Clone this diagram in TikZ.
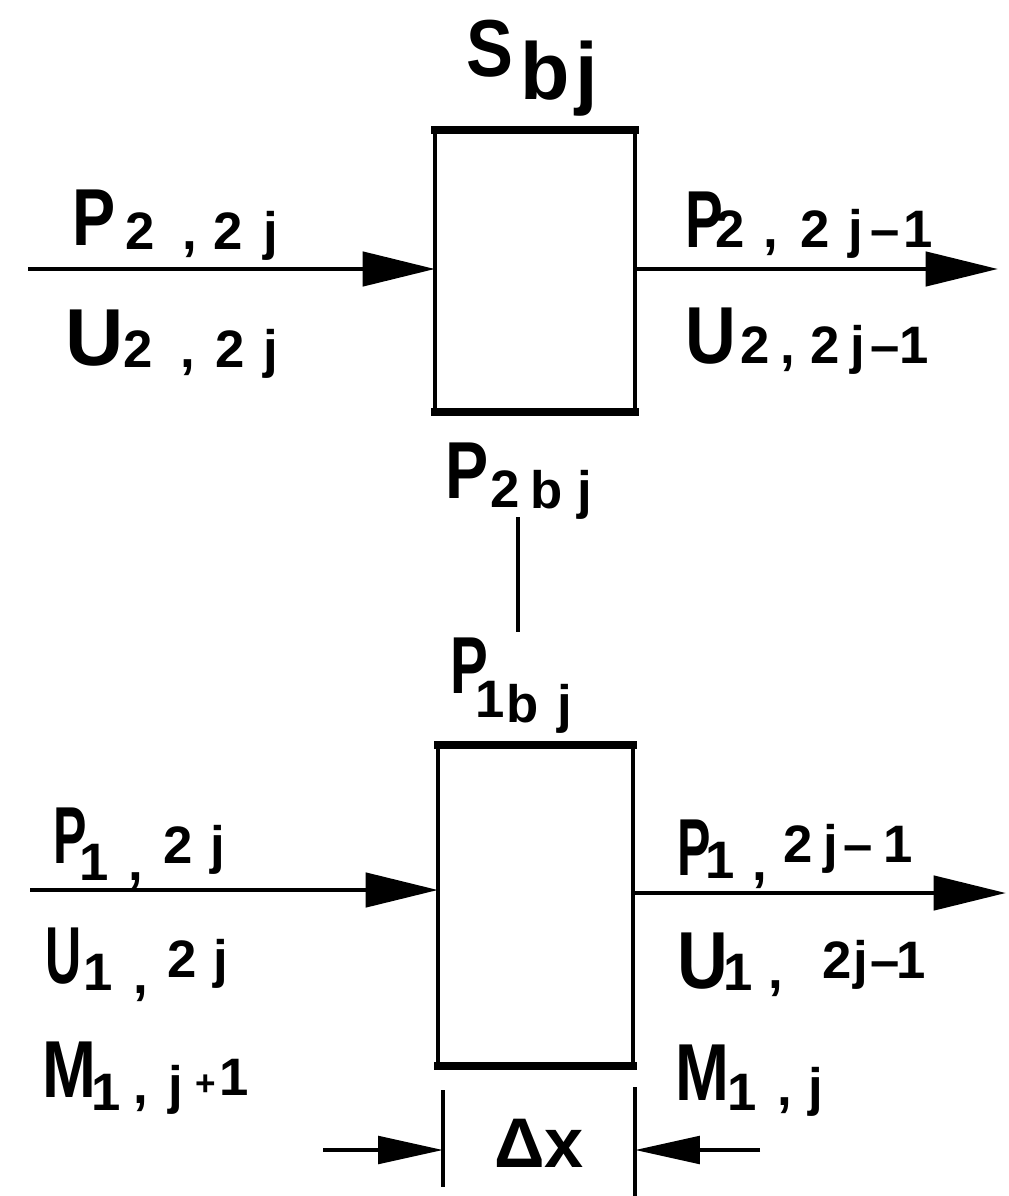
\documentclass[tikz,border=0pt]{standalone}
\usepackage{fontspec}
\setmainfont{Liberation Sans}
\newfontfamily\fnA{Liberation Sans}[FakeStretch=0.62]
\newfontfamily\fnB{Liberation Sans}[FakeStretch=0.7]
\newfontfamily\fnC{Liberation Sans}[FakeStretch=0.8]
\newfontfamily\fnD{Liberation Sans}[FakeStretch=0.87]
\usetikzlibrary{arrows.meta}
\newlength{\px}\setlength{\px}{0.02cm}
\newcommand{\fM}{\fontsize{46}{50}\selectfont\bfseries}
\newcommand{\fS}{\fontsize{30}{34}\selectfont\bfseries}
\newcommand{\fT}{\fontsize{20}{22}\selectfont\bfseries}
\newcommand{\fD}{\fontsize{40}{44}\selectfont\bfseries}
\newcommand{\tk}[3]{\rlap{\hspace*{#1\px}\raisebox{-#2\px}{#3}}}
\newcommand{\nx}[2]{{#1\fM #2}}
\begin{document}
\begin{tikzpicture}[x=0.02cm,y=-0.02cm,
  lbl/.style={inner sep=0pt, outer sep=0pt, anchor=base west},
  blockbox/.style={draw, line width=2.8pt, inner sep=0pt, outer sep=0pt},
  flow/.style={line width=2.8pt, -{Triangle[length=1.45cm,width=0.68cm]}},
  dimarrow/.style={line width=2.3pt, -{Triangle[length=1.3cm,width=0.55cm]}},
  tick/.style={line width=2.3pt},
  link/.style={line width=2.5pt}]
\useasboundingbox (0,0) rectangle (1008,1196);
\fill[white] (0,0) rectangle (1008,1196);

% boxes
\node[blockbox, minimum width=4cm, minimum height=5.64cm] (b1) at (535,271) {};
\node[blockbox, minimum width=3.9cm, minimum height=6.42cm] (b2) at (535.5,905.5) {};
\draw[line width=4.5pt, line cap=rect] (b1.north west) -- (b1.north east);
\draw[line width=4.5pt, line cap=rect] (b1.south west) -- (b1.south east);
\draw[line width=4.5pt, line cap=rect] (b2.north west) -- (b2.north east);
\draw[line width=4.5pt, line cap=rect] (b2.south west) -- (b2.south east);

% flow arrows
\coordinate (in1) at (28,269);
\coordinate (out1) at (998,269);
\coordinate (in2) at (30,890);
\coordinate (out2) at (1006,893);
\draw[flow] (in1) -- (in1 -| b1.west);
\draw[flow] (out1 -| b1.east) -- (out1);
\draw[flow] (in2) -- (in2 -| b2.west);
\draw[flow] (out2 -| b2.east) -- (out2);

% link between P2bj and P1bj
\coordinate (lk1) at (518,517);
\coordinate (lk2) at (518,632);
\draw[link] (lk1) -- (lk2);

% dimension
\coordinate (tl1) at (443,1090);
\coordinate (tl2) at (443,1187);
\coordinate (tr1) at (635,1087);
\coordinate (tr2) at (635,1196);
\draw[tick] (tl1) -- (tl2);
\draw[tick] (tr1) -- (tr2);
\coordinate (dl) at (323,1150);
\coordinate (dr) at (760,1150);
\draw[dimarrow] (dl) -- (dl -| tl1);
\draw[dimarrow] (dr) -- (dr -| tr1);
\node[inner sep=0pt, anchor=base] (dx) at (539,1167) {\fD Δx};

% top labels
\node[lbl] (sbj) at (466,77) {\tk{0}{0}{\nx{\fnD}{S}}\tk{54}{23}{\fM b}\tk{109}{23}{\fM j}};
\node[lbl] (p2in) at (72,245) {\tk{0}{0}{\nx{\fnC}{P}}\tk{53}{5}{\fS 2}\tk{110}{5}{\fS ,}\tk{141}{5}{\fS 2}\tk{191}{5}{\fS j}};
\node[lbl] (u2in) at (65,365) {\tk{0}{0}{\fM U}\tk{58}{2}{\fS 2}\tk{115}{2}{\fS ,}\tk{150}{2}{\fS 2}\tk{198}{2}{\fS j}};
\node[lbl] (p2out) at (685,247) {\tk{0}{0}{\nx{\fnB}{P}}\tk{30}{0}{\fS 2}\tk{78}{0}{\fS ,}\tk{115}{0}{\fS 2}\tk{163}{0}{\fS j}\tk{185}{0}{\fS –}\tk{218}{0}{\fS 1}};
\node[lbl] (u2out) at (685,363) {\tk{0}{0}{\nx{\fnD}{U}}\tk{55}{0}{\fS 2}\tk{95}{0}{\fS ,}\tk{125}{0}{\fS 2}\tk{165}{0}{\fS j}\tk{185}{0}{\fS –}\tk{214}{0}{\fS 1}};

% middle labels
\node[lbl] (p2bj) at (445,498) {\tk{0}{0}{\nx{\fnC}{P}}\tk{45}{9}{\fS 2}\tk{85}{10}{\fS b}\tk{132}{10}{\fS j}};
\node[lbl] (p1bj) at (450,693) {\tk{0}{0}{\nx{\fnB}{P}}\tk{25}{24}{\fS 1}\tk{56}{29}{\fS b}\tk{107}{29}{\fS j}};

% bottom labels
\node[lbl] (p1in) at (53,863) {\tk{0}{0}{\nx{\fnA}{P}}\tk{26}{17}{\fS 1}\tk{75}{17}{\fS ,}\tk{110}{0}{\fS 2}\tk{157}{0}{\fS j}};
\node[lbl] (u1in) at (45,983) {\tk{0}{0}{\nx{\fnA}{U}}\tk{38}{7}{\fS 1}\tk{88}{10}{\fS ,}\tk{122}{-6}{\fS 2}\tk{168}{-6}{\fS j}};
\node[lbl] (m1in) at (42,1097) {\tk{0}{0}{\nx{\fnC}{M}}\tk{49}{13}{\fS 1}\tk{91}{6}{\fS ,}\tk{126}{6}{\fS j}\tk{153}{-2}{\fT +}\tk{177}{-2}{\fS 1}};
\node[lbl] (p1out) at (677,875) {\tk{0}{0}{\nx{\fnA}{P}}\tk{28}{3}{\fS 1}\tk{75}{5}{\fS ,}\tk{106}{-13}{\fS 2}\tk{146}{-13}{\fS j}\tk{166}{-13}{\fS –}\tk{206}{-13}{\fS 1}};
\node[lbl] (u1out) at (677,988) {\tk{0}{0}{\nx{\fnD}{U}}\tk{46}{2}{\fS 1}\tk{91}{0}{\fS ,}\tk{145}{-10}{\fS 2}\tk{176}{-10}{\fS j}\tk{193}{-10}{\fS –}\tk{219}{-10}{\fS 1}};
\node[lbl] (m1out) at (675,1100) {\tk{0}{0}{\nx{\fnC}{M}}\tk{52}{10}{\fS 1}\tk{102}{5}{\fS ,}\tk{133}{5}{\fS j}};
\end{tikzpicture}
\end{document}
